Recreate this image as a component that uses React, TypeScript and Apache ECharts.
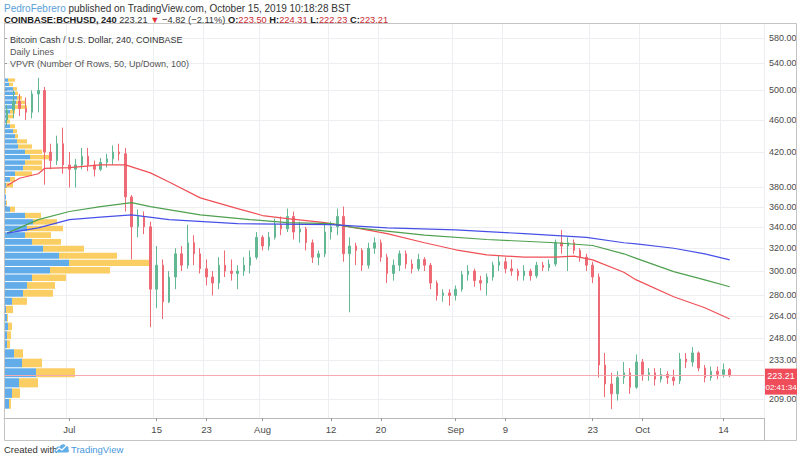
import React, { useEffect, useRef } from "react";
import * as echarts from "echarts";

// ---------- data ----------
const START_DATE = "2019-06-21";
const AXIS_DAYS = 122;

// daily OHLC (Jun 21 .. Oct 15, 2019)
const opens = [460,473,485,475,470,495,500,420,410,430,405,400,405,415,405,400,408,412,420,418,370,340,350,340,285,305,275,295,315,305,325,315,302,295,290,305,300,298,300,305,312,330,322,330,342,338,350,335,338,325,312,315,335,340,350,315,322,318,305,320,325,312,298,305,315,306,302,310,305,290,280,282,280,285,297,300,292,290,295,305,308,302,300,296,300,296,305,303,306,325,322,325,318,312,305,295,230,218,212,222,225,216,232,224,225,221,224,222,220,234,232,238,228,222,226,224,227];
const closes = [473,485,475,470,495,500,420,410,430,405,400,405,415,405,400,408,412,420,418,370,340,350,340,285,305,275,295,315,305,325,315,302,295,290,305,300,298,300,305,312,330,322,330,342,338,350,335,338,325,312,315,335,340,350,315,322,318,305,320,325,312,298,305,315,306,302,310,305,290,280,282,280,285,297,300,292,290,295,305,308,302,300,296,300,296,305,303,306,325,322,325,318,312,305,295,230,218,212,222,225,216,232,224,225,221,224,222,220,234,232,238,228,222,226,224,227,223.21];
const lows = [453,462,465,460,462,470,383,400,405,395,380,380,400,398,392,398,402,405,410,355,310,330,333,256,270,262,274,285,300,302,305,298,288,280,285,295,292,285,296,298,310,318,318,328,332,335,328,325,318,307,305,312,328,332,308,267,305,300,302,315,308,290,292,300,302,298,300,300,285,276,275,272,276,283,292,287,284,280,292,300,298,296,292,292,292,294,300,300,304,315,300,315,308,300,290,222,210,203,208,218,212,215,220,220,217,219,218,217,218,228,229,226,219,220,221,222,222.23];
const highs = [480,500,495,490,500,518,505,430,440,450,420,412,425,425,410,413,418,428,430,425,372,357,355,345,322,310,300,320,322,342,332,320,310,300,312,318,310,305,312,318,335,332,335,348,350,358,355,345,340,328,318,342,345,358,360,330,325,320,325,330,328,315,310,318,318,310,315,312,307,292,285,285,288,300,305,302,296,298,308,313,312,310,302,305,302,308,308,310,328,337,330,328,320,315,308,298,238,225,226,232,228,237,234,228,228,228,226,227,238,238,242,239,230,229,229,231,228];

// "Daily Lines" moving averages, read at the points where they were measured
const redLine: [string, number][] = [
  ["2019-06-21", 382], ["2019-06-23", 390], ["2019-06-26", 395], ["2019-06-27", 401], ["2019-07-01", 402],
  ["2019-07-06", 405], ["2019-07-10", 405], ["2019-07-14", 396], ["2019-07-17", 386], ["2019-07-22", 369],
  ["2019-07-28", 358], ["2019-08-01", 351], ["2019-08-05", 348], ["2019-08-11", 344], ["2019-08-16", 339],
  ["2019-08-21", 333.5], ["2019-08-27", 325], ["2019-09-01", 318.6], ["2019-09-06", 314], ["2019-09-12", 312],
  ["2019-09-17", 312], ["2019-09-20", 313], ["2019-09-23", 309.6], ["2019-09-28", 299], ["2019-09-30", 292.6],
  ["2019-10-06", 279], ["2019-10-11", 270.4], ["2019-10-15", 262],
];
const greenLine: [string, number][] = [
  ["2019-06-21", 334], ["2019-06-26", 347], ["2019-07-01", 355], ["2019-07-06", 360], ["2019-07-11", 364],
  ["2019-07-14", 360], ["2019-07-22", 351.6], ["2019-07-30", 347], ["2019-08-05", 344], ["2019-08-12", 343],
  ["2019-08-16", 339], ["2019-08-27", 332], ["2019-09-06", 328], ["2019-09-17", 325], ["2019-09-23", 322.5],
  ["2019-09-28", 315], ["2019-09-30", 311], ["2019-10-06", 299.5], ["2019-10-11", 292.6], ["2019-10-15", 287],
];
const blueLine: [string, number][] = [
  ["2019-06-21", 334], ["2019-06-26", 339], ["2019-07-01", 347], ["2019-07-06", 349.5], ["2019-07-11", 351.6],
  ["2019-07-17", 347], ["2019-07-28", 343], ["2019-08-12", 342], ["2019-08-21", 339], ["2019-09-01", 337],
  ["2019-09-12", 333.5], ["2019-09-22", 330], ["2019-09-28", 325], ["2019-09-30", 324], ["2019-10-06", 320],
  ["2019-10-11", 315], ["2019-10-15", 309.6],
];

// VPVR: 50 rows, bottom to top; up (blue) and down (yellow) volume, relative units
const vpvrUp = [4,7,14,31,17,9,2,2,3,2, 1,7,18,22,27,45,64,54,38,27, 20,22,28,20,5,1,1,0,1,5, 10,18,20,25,20,13,12,10,8,5, 2,3,5,8,11,12,10,8,4,3];
const vpvrDown = [2,8,19,39,20,9,3,4,4,1, 7,15,30,28,34,60,80,58,41,29, 26,36,24,16,5,1,0,1,7,5, 17,19,17,20,17,14,10,3,4,5, 3,5,5,14,10,5,3,4,4,7];

// axes
const yTicks = [209, 233, 248, 264, 280, 300, 320, 340, 360, 380, 420, 460, 500, 540, 580];
const yRange = [198, 605];
const xTickDates = ["2019-07-01", "2019-07-15", "2019-07-23", "2019-08-01", "2019-08-12", "2019-08-20", "2019-09-01", "2019-09-09", "2019-09-23", "2019-10-01", "2019-10-14"];
const xTickLabels = ["Jul", "15", "23", "Aug", "12", "20", "Sep", "9", "23", "Oct", "14"];

// header quote
const quoteOHLC = [223.5, 224.31, 222.23, 223.21];
const quoteChange = [-4.82, -2.11];
const countdown = "02:41:34";

// ---------- styles ----------
const FONT = '"Liberation Sans", Arial, sans-serif';
const UP = "#62b893";
const DOWN = "#ee6b76";
const VP_BLUE = "#58a8e8";
const VP_YELLOW = "#fbcb5c";
const GRID = "#eceef1";

echarts.graphic.registerShape(
  "tvlogo",
  echarts.graphic.extendPath(
    "M2 11 C0 11 0 8 2 7.5 C2 5 4.5 4 6 5 C7 2 11 1.5 12.5 4 C15 4 16 6.5 15 8 C16.5 9 16 11 14 11 Z",
    {}
  ) as any
);

function buildCategories(): string[] {
  const out: string[] = [];
  const [y, m, d] = START_DATE.split("-").map(Number);
  const start = Date.UTC(y, m - 1, d);
  for (let i = 0; i < AXIS_DAYS; i++) {
    out.push(new Date(start + i * 86400000).toISOString().slice(0, 10));
  }
  return out;
}

export default function App() {
  const ref = useRef<HTMLDivElement>(null);

  useEffect(() => {
    document.body.style.margin = "0";
    if (!ref.current) return;
    const chart = echarts.init(ref.current, null, { renderer: "svg" });

    const categories = buildCategories();
    const tickSet = new Set(xTickDates.map((d) => categories.indexOf(d)));
    const labelMap: Record<string, string> = {};
    xTickDates.forEach((d, i) => (labelMap[d] = xTickLabels[i]));
    const intervalFn = (idx: number) => tickSet.has(idx);

    const ln = Math.log;
    const candleData = opens.map((o, i) => [ln(o), ln(closes[i]), ln(lows[i]), ln(highs[i])]);
    const lastClose = closes[closes.length - 1];

    const vLow = Math.min(...lows);
    const vHigh = Math.max(...highs);
    const rows = vpvrUp.length;
    const step = (vHigh - vLow) / rows;
    const vpData = vpvrUp.map((u, k) => [u, ln(vLow + k * step), ln(vLow + (k + 1) * step), vpvrDown[k]]);

    const lineSeries = (data: [string, number][], color: string) => ({
      type: "line",
      xAxisIndex: 0,
      yAxisIndex: 0,
      data: data.map(([d, v]) => [d, ln(v)]),
      showSymbol: false,
      symbol: "none",
      lineStyle: { color, width: 1.2 },
      z: 4,
      silent: true,
    });

    const option: any = {
      animation: false,
      backgroundColor: "#ffffff",
      textStyle: { fontFamily: FONT },
      grid: { left: 4, right: 36, top: 23, bottom: 43, containLabel: false },
      xAxis: [
        {
          type: "category",
          data: categories,
          boundaryGap: true,
          axisLine: { show: true, lineStyle: { color: "#b8b8b8" } },
          axisTick: { show: true, interval: intervalFn, alignWithLabel: true, length: 3, lineStyle: { color: "#999" } },
          axisLabel: {
            interval: intervalFn,
            formatter: (v: string) => labelMap[v] || "",
            color: "#4a4a4a",
            fontSize: 9.5,
            fontFamily: FONT,
            margin: 6,
          },
          splitLine: { show: true, interval: intervalFn, lineStyle: { color: GRID, width: 1 } },
        },
        { type: "value", min: 0, max: 760, show: false },
      ],
      yAxis: [
        {
          type: "value",
          position: "right",
          min: ln(yRange[0]),
          max: ln(yRange[1]),
          axisLine: { show: true, lineStyle: { color: "#b8b8b8" } },
          axisTick: { show: true, customValues: yTicks.map(ln), length: 3, lineStyle: { color: "#999" } },
          axisLabel: {
            customValues: yTicks.map(ln),
            formatter: (v: number) => Math.exp(v).toFixed(2),
            color: "#4a4a4a",
            fontSize: 9,
            fontFamily: FONT,
            margin: 5,
          },
          splitLine: { show: false },
        },
      ],
      series: [
        {
          type: "custom",
          xAxisIndex: 1,
          yAxisIndex: 0,
          silent: true,
          z: 0,
          data: yTicks.map((v) => [0, ln(v)]),
          encode: { x: 0, y: 1 },
          renderItem: (params: any, api: any) => {
            const p = api.coord([0, api.value(1)]);
            const cs = params.coordSys;
            const y = Math.round(p[1]) + 0.5;
            return {
              type: "line",
              shape: { x1: cs.x, y1: y, x2: cs.x + cs.width, y2: y },
              style: { stroke: GRID, lineWidth: 1 },
            };
          },
        },
        {
          type: "custom",
          xAxisIndex: 1,
          yAxisIndex: 0,
          silent: true,
          z: 1,
          data: vpData,
          encode: { x: 0, y: 1 },
          renderItem: (params: any, api: any) => {
            const up = api.value(0);
            const lo = api.value(1);
            const hi = api.value(2);
            const dn = api.value(3);
            const pTop = api.coord([0, hi]);
            const pBot = api.coord([0, lo]);
            const x0 = pTop[0] + 1;
            const xu = api.coord([up, lo])[0] + 1;
            const xd = api.coord([up + dn, lo])[0] + 1;
            const y = pTop[1] + 0.5;
            const h = Math.max(pBot[1] - pTop[1] - 1, 0.5);
            return {
              type: "group",
              children: [
                { type: "rect", shape: { x: x0, y, width: Math.max(xu - x0, 0), height: h }, style: { fill: VP_BLUE, opacity: 0.95 } },
                { type: "rect", shape: { x: xu, y, width: Math.max(xd - xu, 0), height: h }, style: { fill: VP_YELLOW, opacity: 0.95 } },
              ],
            };
          },
        },
        {
          type: "candlestick",
          xAxisIndex: 0,
          yAxisIndex: 0,
          data: candleData,
          barWidth: 2,
          z: 3,
          silent: true,
          itemStyle: { color: UP, color0: DOWN, borderColor: UP, borderColor0: DOWN, borderWidth: 1 },
          markLine: {
            silent: true,
            symbol: ["none", "none"],
            label: { show: false },
            lineStyle: { color: "#f5a9b0", width: 1, type: "solid" },
            data: [{ yAxis: ln(lastClose) }],
          },
        },
        lineSeries(redLine, "#ef4f55"),
        lineSeries(greenLine, "#4fa04f"),
        lineSeries(blueLine, "#4750e6"),
      ],
    };

    chart.setOption(option);

    const py = chart.convertToPixel({ yAxisIndex: 0 } as any, ln(lastClose)) as number;
    const [o, h, l, c] = quoteOHLC;
    const fmt = (v: number) => v.toFixed(2);
    const sign = (v: number) => (v < 0 ? "\u2212" + Math.abs(v).toFixed(2) : v.toFixed(2));

    const graphic: any[] = [
      {
        type: "rect",
        silent: true,
        shape: { x: 4.5, y: 23.5, width: 792, height: 417 },
        style: { fill: "none", stroke: "#c4c4c4", lineWidth: 1 },
        z: 10,
      },
      {
        type: "line",
        silent: true,
        shape: { x1: 764.5, y1: 418, x2: 764.5, y2: 440.5 },
        style: { stroke: "#b8b8b8", lineWidth: 1 },
        z: 10,
      },
      {
        type: "text",
        x: 4,
        y: 3,
        style: {
          text: "{a|PedroFebrero}{b| published on TradingView.com, October 15, 2019 10:18:28 BST}",
          font: `10px ${FONT}`,
          rich: {
            a: { fill: "#5b9fd8", fontSize: 10, fontFamily: FONT },
            b: { fill: "#333", fontSize: 10, fontFamily: FONT },
          },
        },
        z: 10,
      },
      {
        type: "text",
        x: 4,
        y: 15,
        style: {
          text:
            `{k|COINBASE:BCHUSD, 240} {n|${fmt(c)}} {r|\u25BC} {n|${sign(quoteChange[0])} (${sign(quoteChange[1])}%)} ` +
            `{k|O:}{v|${fmt(o)}} {k|H:}{v|${fmt(h)}} {k|L:}{v|${fmt(l)}} {k|C:}{v|${fmt(c)}}`,
          font: `9.3px ${FONT}`,
          rich: {
            k: { fill: "#222", fontSize: 9.3, fontWeight: "bold", fontFamily: FONT },
            n: { fill: "#333", fontSize: 9.3, fontFamily: FONT },
            r: { fill: "#e0313b", fontSize: 9.3, fontFamily: FONT },
            v: { fill: "#c6282f", fontSize: 9.3, fontFamily: FONT },
          },
        },
        z: 10,
      },
      {
        type: "text",
        x: 10,
        y: 35,
        style: { text: "Bitcoin Cash / U.S. Dollar, 240, COINBASE", fill: "#333", font: `9px ${FONT}` },
        z: 10,
      },
      { type: "text", x: 10, y: 47, style: { text: "Daily Lines", fill: "#555", font: `9px ${FONT}` }, z: 10 },
      {
        type: "text",
        x: 10,
        y: 59,
        style: { text: "VPVR (Number Of Rows, 50, Up/Down, 100)", fill: "#555", font: `9px ${FONT}` },
        z: 10,
      },
      {
        type: "rect",
        silent: true,
        shape: { x: 765, y: py - 7, width: 32, height: 26 },
        style: { fill: "#ef4d5a" },
        z: 11,
      },
      {
        type: "text",
        x: 781,
        y: py,
        style: { text: fmt(lastClose), fill: "#fff", font: `9px ${FONT}`, align: "center", verticalAlign: "middle" },
        z: 12,
      },
      {
        type: "text",
        x: 781,
        y: py + 12,
        style: { text: countdown, fill: "#fff", font: `8px ${FONT}`, align: "center", verticalAlign: "middle" },
        z: 12,
      },
      {
        type: "text",
        x: 4,
        y: 449,
        style: { text: "Created with", fill: "#333", font: `9.5px ${FONT}`, verticalAlign: "middle" },
        z: 10,
      },
      {
        type: "tvlogo",
        x: 54,
        y: 442,
        scaleX: 0.95,
        scaleY: 0.95,
        style: { fill: "#62aee6" },
        z: 10,
      },
      {
        type: "polyline",
        shape: { points: [[56, 451], [59, 448], [62, 450], [67, 445]] },
        style: { stroke: "#ffffff", lineWidth: 1.2, fill: "none" },
        z: 11,
      },
      {
        type: "text",
        x: 71,
        y: 449,
        style: { text: "TradingView", fill: "#4a98dc", font: `9.5px ${FONT}`, verticalAlign: "middle" },
        z: 10,
      },
    ];

    chart.setOption({ graphic });

    return () => chart.dispose();
  }, []);

  return <div ref={ref} style={{ width: 800, height: 461 }} />;
}
